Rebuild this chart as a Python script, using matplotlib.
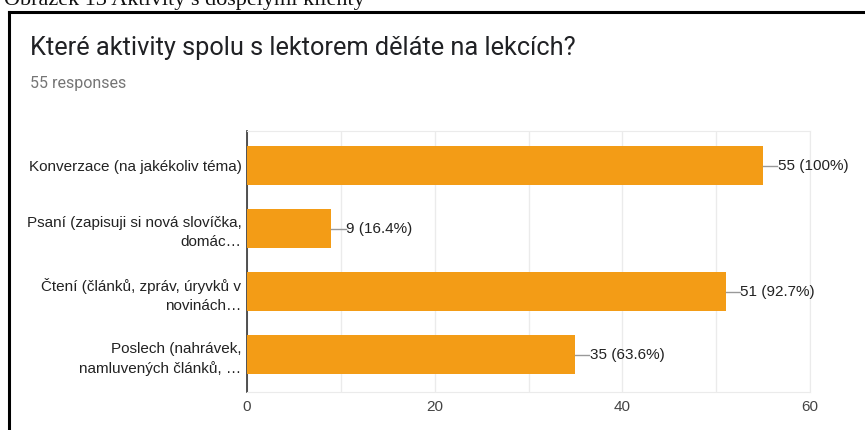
import matplotlib
matplotlib.use("Agg")
import matplotlib.pyplot as plt
from matplotlib.lines import Line2D

categories = [
    "Konverzace (na jakékoliv téma)",
    "Psaní (zapisuji si nová slovíčka,\ndomác…",
    "Čtení (článků, zpráv, úryvků v\nnovinách…",
    "Poslech (nahrávek,\nnamluvených článků, …",
]
values = [55, 9, 51, 35]
value_labels = ["55 (100%)", "9 (16.4%)", "51 (92.7%)", "35 (63.6%)"]
xticks = [0, 20, 40, 60]

title = "Které aktivity spolu s lektorem děláte na lekcích?"
subtitle = "55 responses"
caption = "Obrázek 13 Aktivity s dospělými klienty"

W, H = 865, 430
fig = plt.figure(figsize=(W / 100, H / 100), dpi=100)
fig.patch.set_facecolor("white")

def fx(px):
    return px / W

def fy(py):
    return 1 - py / H

# caption cut at top
fig.text(fx(4), fy(5), caption, family="Liberation Serif", fontsize=16,
         color="#111111", va="baseline", ha="left")

# black frame
fig.add_artist(Line2D([fx(9), fx(870)], [fy(11.5), fy(11.5)], color="black", lw=2.2,
                      transform=fig.transFigure))
fig.add_artist(Line2D([fx(9), fx(9)], [fy(11.5), fy(440)], color="black", lw=2.2,
                      transform=fig.transFigure))

fig.text(fx(30), fy(55), title, family="Roboto", fontsize=18.3, color="#202124",
         va="baseline", ha="left")
fig.text(fx(30), fy(88), subtitle, family="Roboto", fontsize=11.5, color="#757575",
         va="baseline", ha="left")

ax = fig.add_axes([fx(247), fy(392), fx(810) - fx(247), fy(131) - fy(392)])
ypos = list(range(len(categories)))
ax.barh(ypos, values, height=0.62, color="#F39C16", zorder=3)
ax.set_xlim(0, 60)
ax.set_ylim(3.595, -0.548)
ax.set_xticks(xticks)
ax.set_xticks([10, 30, 50], minor=True)
ax.set_yticks(ypos)
ax.set_yticklabels(categories, family="Liberation Sans",
                   fontsize=11, color="#222222", linespacing=1.45)
ax.tick_params(axis="y", length=0, pad=4)
ax.tick_params(axis="x", which="both", length=0, pad=6, labelsize=11, labelcolor="#444444")
for lab in ax.get_xticklabels():
    lab.set_family("Liberation Sans")
ax.grid(axis="x", which="both", color="#ebebeb", lw=1, zorder=0)
for side in ["top", "bottom", "right"]:
    ax.spines[side].set_color("#ebebeb")
ax.spines["left"].set_color("#333333")
ax.spines["left"].set_linewidth(1.2)

for y, v, lab in zip(ypos, values, value_labels):
    ax.plot([v, v + 1.5], [y, y], color="#999999", lw=1, zorder=3, clip_on=False)
    ax.text(v + 1.55, y, lab, va="center", ha="left", fontsize=11,
            family="Liberation Sans", color="#222222")

fig.savefig("out.png", dpi=100)
